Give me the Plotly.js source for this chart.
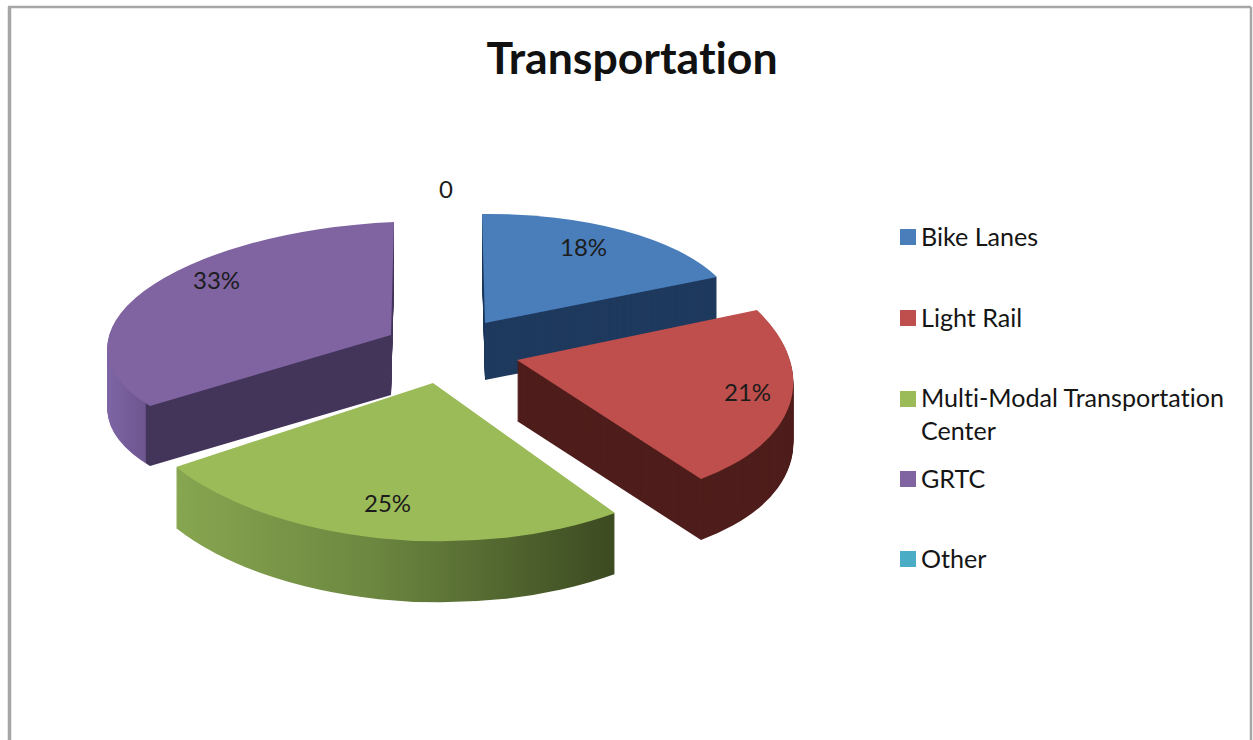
<!DOCTYPE html>
<html><head><meta charset="utf-8">
<script src="https://cdn.plot.ly/plotly-3.0.1.min.js"></script>
<style>html,body{margin:0;padding:0;background:#fff;overflow:hidden}#chart{width:1253px;height:740px}
svg text{font-variant-ligatures:none;font-feature-settings:"liga" 0}</style>
</head><body><div id="chart"></div>
<script>
// ---- data ----
const chartTitle = 'Transportation';
const categories = ['Bike Lanes', 'Light Rail', 'Multi-Modal Transportation<br>Center', 'GRTC', 'Other'];
const shares = [18, 21, 25, 33, 0];
const zeroLabel = '0';

// ---- styles ----
const W = 1253, H = 740;
const FONT = 'Lato, "Open Sans", sans-serif';
const topColors = ['#4a7ebb', '#be4f4c', '#9bbb59', '#8064a2', '#4bacc6'];
const wallColors = ['#1f3a5e', '#4f1e1c', '#5d7535', '#43345a', '#2f7f96'];
const legendY = [236, 317, 413.5, 478, 558];
const legendSwatchShift = [1, 1, -14.5, 1, 1];
// projected pose of each wedge: tip, rim at start angle, rim at end angle, thickness
const pose = {
  3: {tip: [391, 335], a: [150, 406], b: [394, 222], depth: 60},
  0: {tip: [485, 323], a: [482, 214], b: [717, 277], depth: 57},
  1: {tip: [517, 360], a: [757, 310], b: [701, 479], depth: 61},
  2: {tip: [433, 383], a: [615, 513], b: [176, 467], depth: 61}
};
const drawOrder = [3, 0, 1, 2];
const labelPos = [[583, 246.5], [747, 391.5], [387, 502.5], [216, 279.5]];
const STEP = 1;
const CLEAR = 'rgba(0,0,0,0)';

const px = (x) => x / W, py = (y) => 1 - y / H;
const pieDomain = {x: [0.3, 0.7], y: [0.1, 0.9]};
const total = shares.reduce((s, v) => s + v, 0);

const traces = [], meta = [];
// legend carrier
traces.push({type: 'pie', labels: categories, values: shares, sort: false, textinfo: 'none',
  marker: {colors: topColors}, domain: pieDomain, showlegend: true, hoverinfo: 'skip'});
meta.push({hidden: true});

drawOrder.forEach((k) => {
  const layers = Math.ceil(pose[k].depth / STEP);
  for (let n = layers; n >= 0; n--) {
    const colors = categories.map((_, i) => i === k ? (n === 0 ? topColors[k] : wallColors[k]) : CLEAR);
    traces.push({type: 'pie', labels: categories, values: shares, sort: false, direction: 'clockwise',
      rotation: 0, textinfo: 'none', hoverinfo: 'skip', showlegend: false, domain: pieDomain,
      marker: {colors: colors, line: {width: 0}}});
    meta.push({k: k, dy: Math.min(n * STEP, pose[k].depth), wall: n !== 0});
  }
});

const labelFont = {family: FONT, size: 24, color: '#1c1c1c'};
const ann = shares.slice(0, 4).map((v, i) => ({
  x: px(labelPos[i][0]), y: py(labelPos[i][1]), xref: 'paper', yref: 'paper', showarrow: false,
  xanchor: 'center', yanchor: 'middle', text: v + '%', font: labelFont
}));
ann.push({x: px(446), y: py(188), xref: 'paper', yref: 'paper', showarrow: false, xanchor: 'center',
  yanchor: 'middle', text: zeroLabel, font: labelFont});

const frame = (x0, y0, x1, y1, w) => ({type: 'line', xref: 'paper', yref: 'paper',
  x0: px(x0), y0: py(y0), x1: px(x1), y1: py(y1), line: {color: '#a6a6a6', width: w}});

const layout = {
  width: W, height: H, margin: {l: 0, r: 0, t: 0, b: 0, pad: 0},
  paper_bgcolor: '#fff', plot_bgcolor: '#fff',
  title: {text: '<b>' + chartTitle + '</b>', x: 632 / W, xanchor: 'center', y: 1 - 58 / H, yanchor: 'middle',
    font: {family: FONT, size: 44.6, color: '#111'}},
  showlegend: true,
  legend: {x: px(881), y: py(220), xanchor: 'left', yanchor: 'top', bgcolor: 'rgba(0,0,0,0)',
    font: {family: FONT, size: 25.1, color: '#151515'}, itemwidth: 30, traceorder: 'normal'},
  annotations: ann,
  shapes: [frame(8, 7, 1251, 7, 2.5), frame(9.5, 7, 9.5, 740, 3.5), frame(1251, 7, 1251, 740, 2.5)]
};

const gd = document.getElementById('chart');
Plotly.newPlot(gd, traces, layout, {staticPlot: true, displayModeBar: false}).then(() => {
  const svg = gd.querySelector('svg.main-svg');
  const NS = 'http://www.w3.org/2000/svg';
  const defs = document.createElementNS(NS, 'defs');
  svg.insertBefore(defs, svg.firstChild);
  const groups = gd.querySelectorAll('.pielayer .trace');
  let cum = {}, c = 0;
  shares.forEach((v, i) => { cum[i] = [c / total * 2 * Math.PI, (c + v) / total * 2 * Math.PI]; c += v; });

  const wallGradient = {
    2: {x: [176, 615], stops: [[0, '#87a650'], [0.45, '#6c8740'], [1, '#3c4a21']]},
    3: {x: [108, 148], stops: [[0, '#7d64a4'], [0.93, '#6e5690'], [0.96, '#43345a'], [1, '#43345a']]}
  };

  groups.forEach((g, idx) => {
    const m = meta[idx];
    if (!m) return;
    if (m.hidden) { g.style.display = 'none'; return; }
    const cd = gd.calcdata[idx][0];
    const p = pose[m.k];
    const [t1, t2] = cum[m.k];
    const ux = Math.sin(t1), uy = -Math.cos(t1), vx = Math.sin(t2), vy = -Math.cos(t2);
    const det = ux * vy - vx * uy;
    const ex = [p.a[0] - p.tip[0], p.a[1] - p.tip[1]], fx = [p.b[0] - p.tip[0], p.b[1] - p.tip[1]];
    const A = (ex[0] * vy - fx[0] * uy) / det / cd.r;
    const C = (-ex[0] * vx + fx[0] * ux) / det / cd.r;
    const B = (ex[1] * vy - fx[1] * uy) / det / cd.r;
    const D = (-ex[1] * vx + fx[1] * ux) / det / cd.r;
    const E = p.tip[0] - A * cd.cx - C * cd.cy;
    const F = p.tip[1] + m.dy - B * cd.cx - D * cd.cy;
    g.setAttribute('transform', `matrix(${A},${B},${C},${D},${E},${F})`);

    const grad = wallGradient[m.k];
    if (m.wall && grad) {
      g.querySelectorAll('path.surface').forEach((path) => {
        const datum = path.__data__;
        if (!datum || datum.i !== m.k) return;
        const gr = document.createElementNS(NS, 'linearGradient');
        const q = path.getScreenCTM().inverse();
        const id = 'wall' + m.k + '_' + idx;
        gr.setAttribute('id', id);
        gr.setAttribute('gradientUnits', 'userSpaceOnUse');
        gr.setAttribute('x1', grad.x[0]); gr.setAttribute('y1', 0);
        gr.setAttribute('x2', grad.x[1]); gr.setAttribute('y2', 0);
        gr.setAttribute('gradientTransform', `matrix(${q.a},${q.b},${q.c},${q.d},${q.e},${q.f})`);
        grad.stops.forEach((s) => {
          const st = document.createElementNS(NS, 'stop');
          st.setAttribute('offset', s[0]); st.setAttribute('stop-color', s[1]);
          gr.appendChild(st);
        });
        defs.appendChild(gr);
        path.style.fill = `url(#${id})`;
      });
    }
  });

  // legend spacing and swatches as in the reference
  const clip = gd.querySelector('.legend .scrollbox');
  if (clip) clip.removeAttribute('clip-path');
  const legend = gd.querySelector('.legend');
  const base = 220;
  legend.querySelectorAll('.traces').forEach((it, i) => {
    const x = (it.getAttribute('transform').match(/translate\(([-\d.]+)/) || [0, 0])[1];
    it.setAttribute('transform', `translate(${x},${legendY[i] - base})`);
    const sw = it.querySelector('.legendpie');
    if (sw) {
      const tx = +(((sw.getAttribute('transform') || '').match(/translate\(([-\d.]+)/) || [0, 20])[1]);
      sw.setAttribute('transform', `translate(${tx + 7},${legendSwatchShift[i]}) scale(1.33)`);
    }
  });
});
</script>
</body></html>
